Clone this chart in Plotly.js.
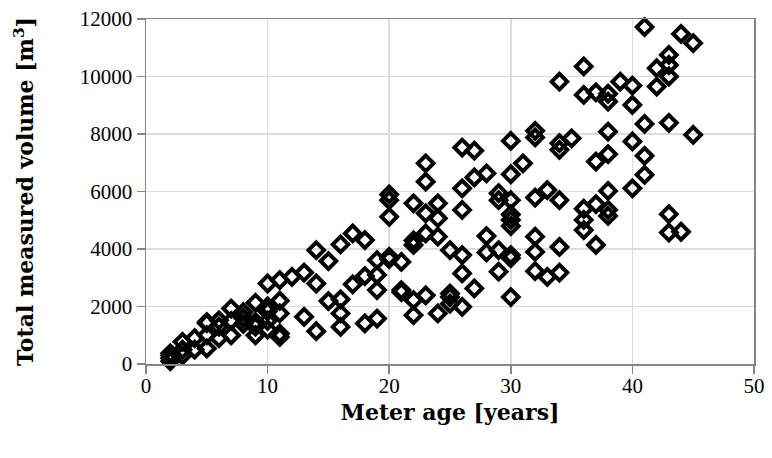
<!DOCTYPE html>
<html>
<head>
<meta charset="utf-8">
<script src="https://cdn.plot.ly/plotly-3.0.1.min.js"></script>
<style>html,body{margin:0;padding:0;background:#fff;}#chart{width:772px;height:458px;}</style>
</head>
<body>
<div id="chart"></div>
<script>
// Meter age [years]
const ages = [
  2,2,2,2,
  3,3,3,
  4,4,
  5,5,5,5,
  6,6,6,
  7,7,7,
  8,8,8,
  9,9,9,9,
  10,10,10,10,10,
  11,11,11,11,11,
  12,
  13,13,
  14,14,14,
  15,15,
  16,16,16,16,
  17,17,
  18,18,18,
  19,19,19,19,
  20,20,20,20,20,
  21,21,21,
  22,22,22,22,22,
  23,23,23,23,23,
  24,24,24,24,
  25,25,25,25,
  26,26,26,26,26,26,
  27,27,27,
  28,28,28,
  29,29,29,29,
  30,30,30,30,30,30,30,30,30,
  31,
  32,32,32,32,32,32,
  33,33,
  34,34,34,34,34,34,
  35,
  36,36,36,36,36,
  37,37,37,37,
  38,38,38,38,38,38,38,
  39,
  40,40,40,40,
  41,41,41,41,
  42,42,
  43,43,43,43,43,43,43,
  44,44,
  45,45
];
// Total measured volume [m3]
const volumes = [
  100,200,300,370,
  300,500,770,
  500,900,
  540,1000,1420,1460,
  900,1300,1520,
  1000,1500,1930,
  1400,1600,1800,
  1000,1300,1460,2130,
  1200,1500,1830,2000,2800,
  940,1060,1760,2200,2920,
  3030,
  1640,3180,
  1140,2800,3960,
  2190,3580,
  1290,1760,2250,4160,
  2770,4540,
  1410,3060,4310,
  1580,2570,3100,3610,
  3650,3730,5120,5700,5900,
  2500,2570,3550,
  1700,2220,4140,4300,5590,
  2390,4540,5240,6340,6980,
  1760,4430,5070,5590,
  2100,2330,2450,3960,
  1990,3150,3790,5360,6110,7530,
  2630,6490,7420,
  3880,4450,6630,
  3210,3960,5700,5940,
  2330,3680,3790,4800,5010,5200,5700,6600,7760,
  6980,
  3230,3900,4430,5790,7880,8110,
  3030,6050,
  3180,4070,5700,7450,7680,9820,
  7850,
  4660,5010,5400,9360,10350,
  4140,5560,7040,9450,
  5150,5360,6020,7300,8080,9130,9400,
  9820,
  6110,7740,9010,9680,
  6580,7240,8350,11720,
  9650,10290,
  4570,5210,8390,10000,10400,10750,12020,
  4600,11480,
  7970,11160
];
const xTickVals = [0,10,20,30,40,50];
const yTickVals = [0,2000,4000,6000,8000,10000,12000];
const xTitle = 'Meter age [years]';
const yTitle = 'Total measured volume [m<sup>3</sup>]';

const trace = {
  x: ages, y: volumes, type: 'scatter', mode: 'markers',
  marker: {symbol: 'diamond-open', size: 12, color: '#000', line: {color: '#000', width: 4}},
  hoverinfo: 'x+y', cliponaxis: false
};
const tickFont = {family: 'Liberation Serif, serif', size: 21, color: '#000'};
const titleFont = {family: 'DejaVu Serif, serif', size: 22, color: '#000', weight: 'bold'};
const layout = {
  width: 772, height: 458,
  margin: {l: 146, r: 18, t: 19, b: 94, pad: 0},
  paper_bgcolor: '#fff', plot_bgcolor: '#fff',
  showlegend: false,
  xaxis: {
    range: [0, 50], tickvals: xTickVals, ticktext: xTickVals.map(String),
    showgrid: true, gridcolor: '#dcdcdc', gridwidth: 1.5,
    showline: true, linecolor: '#868686', linewidth: 1.5, mirror: true,
    ticks: 'outside', ticklen: 8, tickcolor: '#868686', tickwidth: 1.5,
    tickfont: tickFont, zeroline: false, ticklabelstandoff: -6,
    title: {text: '<b>' + xTitle + '</b>', font: titleFont, standoff: 8}
  },
  yaxis: {
    range: [0, 12000], tickvals: yTickVals, ticktext: yTickVals.map(String),
    showgrid: true, gridcolor: '#dcdcdc', gridwidth: 1.5,
    showline: true, linecolor: '#868686', linewidth: 1.5, mirror: true,
    ticks: 'outside', ticklen: 8, tickcolor: '#868686', tickwidth: 1.5,
    tickfont: tickFont, zeroline: false,
    title: {text: '<b>' + yTitle + '</b>', font: titleFont, standoff: 40}
  }
};
Plotly.newPlot('chart', [trace], layout, {staticPlot: true, displayModeBar: false});
</script>
</body>
</html>
